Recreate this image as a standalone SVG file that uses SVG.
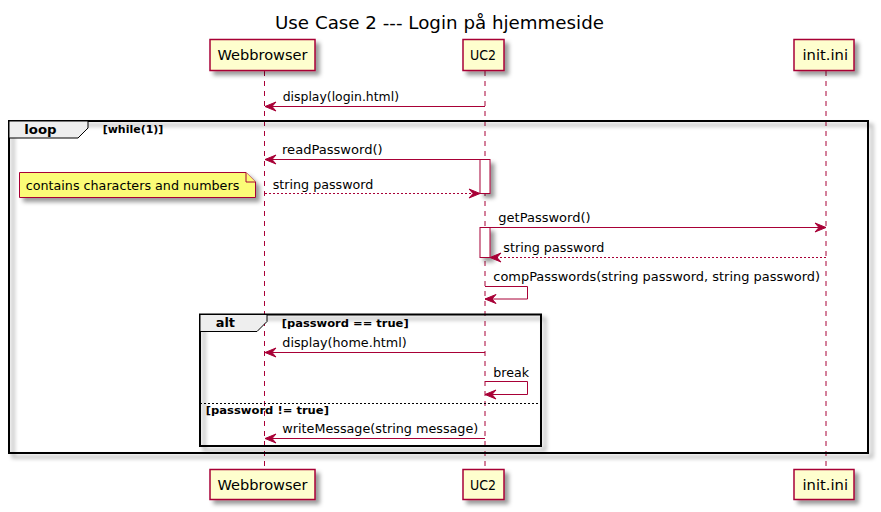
<svg xmlns="http://www.w3.org/2000/svg" width="881" height="512" viewBox="0 0 881 512">
<defs>
<filter id="sh" x="-1" y="-1" width="300%" height="300%">
<feGaussianBlur result="b1" stdDeviation="2"/>
<feColorMatrix in="b1" result="b2" type="matrix" values="0 0 0 0 0 0 0 0 0 0 0 0 0 0 0 0 0 0 .4 0"/>
<feOffset dx="4" dy="4" in="b2" result="b3"/>
<feBlend in="SourceGraphic" in2="b3" mode="normal"/>
</filter>
<marker id="ah" markerUnits="userSpaceOnUse" markerWidth="12" markerHeight="10" refX="0" refY="5" orient="auto" overflow="visible">
<polygon points="0,5 -11,0.5 -7,5 -11,9.5" fill="#A80036" stroke="#A80036" stroke-width="1"/>
</marker>
</defs>
<style>
text{font-family:"DejaVu Sans",sans-serif;fill:#000}
.title{font-size:18px}
.pt{font-size:14px}
.ml{font-size:13px}
.fl{font-size:13px;font-weight:bold}
.gl{font-size:11px;font-weight:bold}
.part{fill:#FEFECE;stroke:#A80036;stroke-width:1.5;filter:url(#sh)}
.life{stroke:#A80036;stroke-width:1;stroke-dasharray:5,5;fill:none}
.act{fill:#FFFFFF;stroke:#A80036;stroke-width:1;filter:url(#sh)}
.msg{stroke:#A80036;stroke-width:1;fill:none}
.ret{stroke:#A80036;stroke-width:1;stroke-dasharray:2,2;fill:none}
.frame{fill:none;stroke:#000;stroke-width:2;filter:url(#sh)}
.tab{fill:#EEEEEE;stroke:#000;stroke-width:1}
.sep{stroke:#000;stroke-width:1;stroke-dasharray:2,2}
.note{fill:#FBFB77;stroke:#A80036;stroke-width:1}
</style>
<rect width="881" height="512" fill="#FFFFFF"/>
<text class="title" x="275" y="28.5" textLength="329" lengthAdjust="spacingAndGlyphs">Use Case 2 --- Login på hjemmeside</text>

<g id="lifelines">
<line class="life" x1="264.5" y1="71" x2="264.5" y2="469"/>
<line class="life" x1="485" y1="71" x2="485" y2="469"/>
<line class="life" x1="826" y1="71" x2="826" y2="469"/>
</g>

<g id="p-webbrowser">
<rect class="part" x="210" y="39.5" width="105" height="31"/>
<text class="pt" x="217.5" y="60" textLength="90" lengthAdjust="spacingAndGlyphs">Webbrowser</text>
<rect class="part" x="210" y="469.5" width="105" height="30"/>
<text class="pt" x="217.5" y="489.5" textLength="90" lengthAdjust="spacingAndGlyphs">Webbrowser</text>
</g>
<g id="p-uc2">
<rect class="part" x="463" y="39.5" width="41" height="31"/>
<text class="pt" x="470" y="60" textLength="26" lengthAdjust="spacingAndGlyphs">UC2</text>
<rect class="part" x="463" y="469.5" width="41" height="30"/>
<text class="pt" x="470" y="489.5" textLength="26" lengthAdjust="spacingAndGlyphs">UC2</text>
</g>
<g id="p-initini">
<rect class="part" x="794" y="39.5" width="60" height="31"/>
<text class="pt" x="802.5" y="60" textLength="45.5" lengthAdjust="spacingAndGlyphs">init.ini</text>
<rect class="part" x="794" y="469.5" width="60" height="30"/>
<text class="pt" x="802.5" y="489.5" textLength="45.5" lengthAdjust="spacingAndGlyphs">init.ini</text>
</g>

<g id="frame-loop">
<rect class="frame" x="9" y="121" width="859" height="332"/>
<polygon class="tab" points="9,121 88,121 88,128 78,138 9,138"/>
<text class="fl" x="24.3" y="134" textLength="32.3" lengthAdjust="spacingAndGlyphs">loop</text>
<text class="gl" x="102.7" y="133" textLength="60.7" lengthAdjust="spacingAndGlyphs">[while(1)]</text>
</g>

<g id="frame-alt">
<rect class="frame" x="200" y="314.5" width="341" height="131.5"/>
<polygon class="tab" points="200,314.5 267,314.5 267,321.5 257,331.5 200,331.5"/>
<text class="fl" x="215.7" y="327" textLength="19.3" lengthAdjust="spacingAndGlyphs">alt</text>
<text class="gl" x="281.7" y="327" textLength="127" lengthAdjust="spacingAndGlyphs">[password == true]</text>
<line class="sep" x1="200" y1="403.5" x2="541" y2="403.5"/>
<text class="gl" x="205.7" y="414" textLength="123.3" lengthAdjust="spacingAndGlyphs">[password != true]</text>
</g>

<g id="activations">
<rect class="act" x="480" y="159.5" width="10" height="34"/>
<rect class="act" x="480" y="227.5" width="10" height="30"/>
</g>

<g id="note">
<path class="note" d="M19.5,172.5 L246,172.5 L255.5,182 L255.5,197.5 L19.5,197.5 Z" style="filter:url(#sh)"/>
<path class="note" d="M246,172.5 L246,182 L255.5,182"/>
<text class="ml" x="25.7" y="190" textLength="213.6" lengthAdjust="spacingAndGlyphs">contains characters and numbers</text>
</g>

<g id="connectors">
<line class="msg" x1="485" y1="106.5" x2="265" y2="106.5" marker-end="url(#ah)"/>
<text class="ml" x="282.7" y="100.5" textLength="116.3" lengthAdjust="spacingAndGlyphs">display(login.html)</text>

<line class="msg" x1="480" y1="159.5" x2="265" y2="159.5" marker-end="url(#ah)"/>
<text class="ml" x="282" y="153.5" textLength="100.7" lengthAdjust="spacingAndGlyphs">readPassword()</text>

<line class="ret" x1="265" y1="193.5" x2="480" y2="193.5" marker-end="url(#ah)"/>
<text class="ml" x="272.7" y="188.5" textLength="100.7" lengthAdjust="spacingAndGlyphs">string password</text>

<line class="msg" x1="490" y1="227.5" x2="826" y2="227.5" marker-end="url(#ah)"/>
<text class="ml" x="498.3" y="221.5" textLength="92.3" lengthAdjust="spacingAndGlyphs">getPassword()</text>

<line class="ret" x1="826" y1="257.5" x2="490" y2="257.5" marker-end="url(#ah)"/>
<text class="ml" x="503.3" y="251.5" textLength="101" lengthAdjust="spacingAndGlyphs">string password</text>

<polyline class="msg" points="485,286.5 527.5,286.5 527.5,299 485,299" marker-end="url(#ah)"/>
<text class="ml" x="493.3" y="280.5" textLength="326.7" lengthAdjust="spacingAndGlyphs">compPasswords(string password, string password)</text>

<line class="msg" x1="485" y1="352.5" x2="265" y2="352.5" marker-end="url(#ah)"/>
<text class="ml" x="282.3" y="346.5" textLength="124.4" lengthAdjust="spacingAndGlyphs">display(home.html)</text>

<polyline class="msg" points="485,381.5 527.5,381.5 527.5,394.5 485,394.5" marker-end="url(#ah)"/>
<text class="ml" x="493.3" y="376.5" textLength="35.7" lengthAdjust="spacingAndGlyphs">break</text>

<line class="msg" x1="485" y1="438.5" x2="265" y2="438.5" marker-end="url(#ah)"/>
<text class="ml" x="282.3" y="432.5" textLength="196" lengthAdjust="spacingAndGlyphs">writeMessage(string message)</text>
</g>
</svg>
